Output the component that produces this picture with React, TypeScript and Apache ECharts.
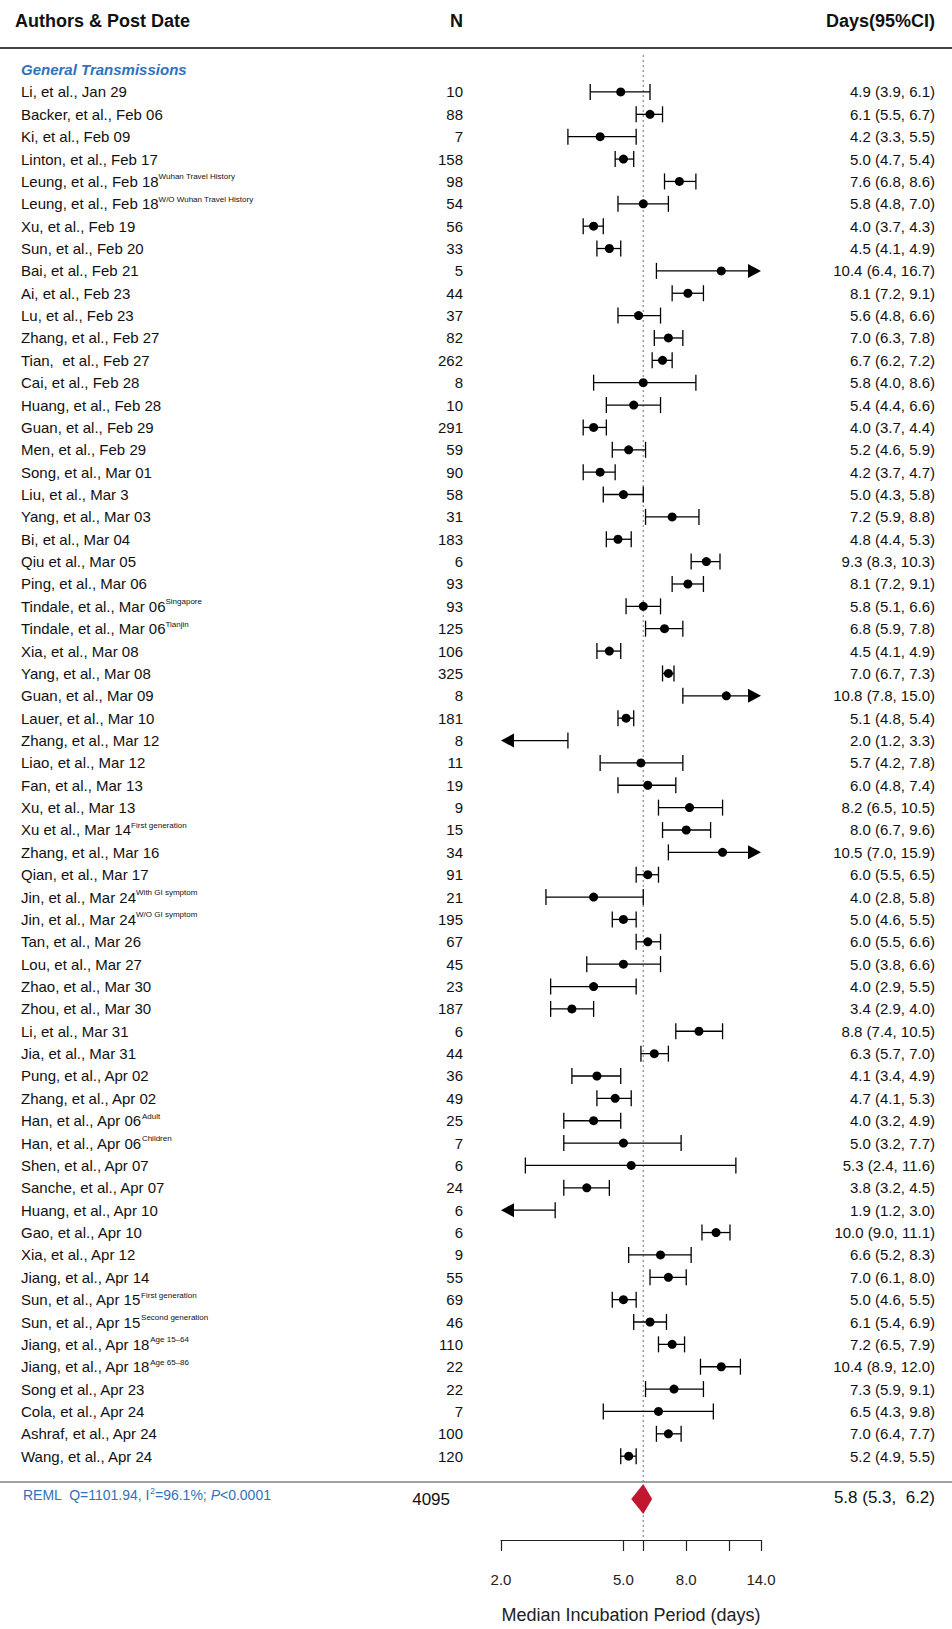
import { useEffect, useRef } from 'react'
import * as echarts from 'echarts'

// Study rows, top to bottom
const studies = [
  'Li, et al., Jan 29', 'Backer, et al., Feb 06', 'Ki, et al., Feb 09', 'Linton, et al., Feb 17',
  'Leung, et al., Feb 18', 'Leung, et al., Feb 18', 'Xu, et al., Feb 19', 'Sun, et al., Feb 20',
  'Bai, et al., Feb 21', 'Ai, et al., Feb 23', 'Lu, et al., Feb 23', 'Zhang, et al., Feb 27',
  'Tian,  et al., Feb 27', 'Cai, et al., Feb 28', 'Huang, et al., Feb 28', 'Guan, et al., Feb 29',
  'Men, et al., Feb 29', 'Song, et al., Mar 01', 'Liu, et al., Mar 3', 'Yang, et al., Mar 03',
  'Bi, et al., Mar 04', 'Qiu et al., Mar 05', 'Ping, et al., Mar 06', 'Tindale, et al., Mar 06',
  'Tindale, et al., Mar 06', 'Xia, et al., Mar 08', 'Yang, et al., Mar 08', 'Guan, et al., Mar 09',
  'Lauer, et al., Mar 10', 'Zhang, et al., Mar 12', 'Liao, et al., Mar 12', 'Fan, et al., Mar 13',
  'Xu, et al., Mar 13', 'Xu et al., Mar 14', 'Zhang, et al., Mar 16', 'Qian, et al., Mar 17',
  'Jin, et al., Mar 24', 'Jin, et al., Mar 24', 'Tan, et al., Mar 26', 'Lou, et al., Mar 27',
  'Zhao, et al., Mar 30', 'Zhou, et al., Mar 30', 'Li, et al., Mar 31', 'Jia, et al., Mar 31',
  'Pung, et al., Apr 02', 'Zhang, et al., Apr 02', 'Han, et al., Apr 06', 'Han, et al., Apr 06',
  'Shen, et al., Apr 07', 'Sanche, et al., Apr 07', 'Huang, et al., Apr 10', 'Gao, et al., Apr 10',
  'Xia, et al., Apr 12', 'Jiang, et al., Apr 14', 'Sun, et al., Apr 15', 'Sun, et al., Apr 15',
  'Jiang, et al., Apr 18', 'Jiang, et al., Apr 18', 'Song et al., Apr 23', 'Cola, et al., Apr 24',
  'Ashraf, et al., Apr 24', 'Wang, et al., Apr 24',
]
const notes: Record<number, string> = {
  4: 'Wuhan Travel History', 5: 'W/O Wuhan Travel History', 23: 'Singapore', 24: 'Tianjin',
  33: 'First generation', 36: 'With GI symptom', 37: 'W/O GI symptom', 46: 'Adult', 47: 'Children',
  54: 'First generation', 55: 'Second generation', 56: 'Age 15–64', 57: 'Age 65–86',
}
const sampleN = [10, 88, 7, 158, 98, 54, 56, 33, 5, 44, 37, 82, 262, 8, 10, 291, 59, 90, 58, 31, 183, 6, 93, 93, 125, 106, 325, 8, 181, 8, 11, 19, 9, 15, 34, 91, 21, 195, 67, 45, 23, 187, 6, 44, 36, 49, 25, 7, 6, 24, 6, 6, 9, 55, 69, 46, 110, 22, 22, 7, 100, 120]
const median = [4.9, 6.1, 4.2, 5.0, 7.6, 5.8, 4.0, 4.5, 10.4, 8.1, 5.6, 7.0, 6.7, 5.8, 5.4, 4.0, 5.2, 4.2, 5.0, 7.2, 4.8, 9.3, 8.1, 5.8, 6.8, 4.5, 7.0, 10.8, 5.1, 2.0, 5.7, 6.0, 8.2, 8.0, 10.5, 6.0, 4.0, 5.0, 6.0, 5.0, 4.0, 3.4, 8.8, 6.3, 4.1, 4.7, 4.0, 5.0, 5.3, 3.8, 1.9, 10.0, 6.6, 7.0, 5.0, 6.1, 7.2, 10.4, 7.3, 6.5, 7.0, 5.2]
const lower = [3.9, 5.5, 3.3, 4.7, 6.8, 4.8, 3.7, 4.1, 6.4, 7.2, 4.8, 6.3, 6.2, 4.0, 4.4, 3.7, 4.6, 3.7, 4.3, 5.9, 4.4, 8.3, 7.2, 5.1, 5.9, 4.1, 6.7, 7.8, 4.8, 1.2, 4.2, 4.8, 6.5, 6.7, 7.0, 5.5, 2.8, 4.6, 5.5, 3.8, 2.9, 2.9, 7.4, 5.7, 3.4, 4.1, 3.2, 3.2, 2.4, 3.2, 1.2, 9.0, 5.2, 6.1, 4.6, 5.4, 6.5, 8.9, 5.9, 4.3, 6.4, 4.9]
const upper = [6.1, 6.7, 5.5, 5.4, 8.6, 7.0, 4.3, 4.9, 16.7, 9.1, 6.6, 7.8, 7.2, 8.6, 6.6, 4.4, 5.9, 4.7, 5.8, 8.8, 5.3, 10.3, 9.1, 6.6, 7.8, 4.9, 7.3, 15.0, 5.4, 3.3, 7.8, 7.4, 10.5, 9.6, 15.9, 6.5, 5.8, 5.5, 6.6, 6.6, 5.5, 4.0, 10.5, 7.0, 4.9, 5.3, 4.9, 7.7, 11.6, 4.5, 3.0, 11.1, 8.3, 8.0, 5.5, 6.9, 7.9, 12.0, 9.1, 9.8, 7.7, 5.5]

const pooled = { est: 5.8, lo: 5.3, hi: 6.2, n: 4095 }
const tickValues = [2, 5, 5.8, 8, 11, 14]
const tickLabels = [2, 5, 8, 14]

const X_MIN = 2
const X_MAX = 14
const FONT = '"Liberation Sans", Arial, sans-serif'
const BLUE = '#2f72bd'
const TOP = 69.6 // pixel of row value 0
const ROW = 22.41
const AXIS_Y = 1543
const POOLED_ROW = (1502 - TOP) / ROW

export default function App() {
  const ref = useRef<HTMLDivElement>(null)

  useEffect(() => {
    document.body.style.margin = '0'
    const el = ref.current
    if (!el) return
    const chart = echarts.init(el, undefined, { renderer: 'svg' })
    const rows = studies.map((_, i) => [median[i], i + 1])
    const yMax = (AXIS_Y - TOP) / ROW

    chart.setOption({
      animation: false,
      textStyle: { fontFamily: FONT },
      grid: { left: 501, right: 952 - 761, top: TOP, bottom: 1629 - AXIS_Y },
      xAxis: {
        type: 'log',
        min: X_MIN,
        max: X_MAX,
        position: 'bottom',
        axisLine: { show: true, onZero: false, lineStyle: { color: '#222', width: 1.2 } },
        axisTick: { show: true, customValues: tickValues, length: 11, lineStyle: { color: '#222', width: 1.2 } },
        axisLabel: {
          customValues: tickLabels,
          formatter: (v: number) => v.toFixed(1),
          margin: 32,
          fontSize: 15,
          color: '#222',
          fontFamily: FONT,
        },
        splitLine: { show: false },
        name: 'Median Incubation Period (days)',
        nameLocation: 'middle',
        nameGap: 66,
        nameTextStyle: { fontSize: 18, color: '#222', fontFamily: FONT },
      },
      yAxis: { type: 'value', inverse: true, min: 0, max: yMax, show: false },
      graphic: [
        { type: 'line', shape: { x1: 0, y1: 48, x2: 952, y2: 48 }, style: { stroke: '#444', lineWidth: 2 } },
        { type: 'line', shape: { x1: 0, y1: 1482, x2: 952, y2: 1482 }, style: { stroke: '#444', lineWidth: 1.2 } },
        { type: 'text', x: 15, y: 21, style: { text: 'Authors & Post Date', font: `bold 18px ${FONT}`, fill: '#111', verticalAlign: 'middle' } },
        { type: 'text', x: 463, y: 21, style: { text: 'N', font: `bold 18px ${FONT}`, fill: '#111', align: 'right', verticalAlign: 'middle' } },
        { type: 'text', x: 935, y: 21, style: { text: 'Days(95%CI)', font: `bold 18px ${FONT}`, fill: '#111', align: 'right', verticalAlign: 'middle' } },
        { type: 'text', x: 21, y: 69, style: { text: 'General Transmissions', font: `italic bold 15px ${FONT}`, fill: BLUE, verticalAlign: 'middle' } },
      ],
      series: [
        {
          // reference line at pooled estimate
          type: 'custom',
          clip: false,
          silent: true,
          data: [[pooled.est]],
          renderItem: (_p: any, api: any) => {
            const a = api.coord([pooled.est, -0.65])
            const b = api.coord([pooled.est, yMax])
            return {
              type: 'line',
              shape: { x1: a[0], y1: a[1], x2: b[0], y2: b[1] },
              style: { stroke: '#888', lineWidth: 1.2, lineDash: [2, 3] },
            }
          },
        },
        {
          // text columns
          type: 'custom',
          clip: false,
          silent: true,
          data: rows,
          renderItem: (p: any, api: any) => {
            const i = p.dataIndex
            const y = api.coord([X_MIN, i + 1])[1]
            const note = notes[i]
            const ci = `${median[i].toFixed(1)} (${lower[i].toFixed(1)}, ${upper[i].toFixed(1)})`
            return {
              type: 'group',
              children: [
                {
                  type: 'text',
                  x: 21,
                  y,
                  style: {
                    text: note ? `${studies[i]}{s|${note}}` : studies[i],
                    font: `15px ${FONT}`,
                    fill: '#111',
                    verticalAlign: 'middle',
                    rich: { s: { fontSize: 8, fontFamily: FONT, fill: '#111', padding: [0, 0, 9, 0] } },
                  },
                },
                { type: 'text', x: 463, y, style: { text: String(sampleN[i]), font: `15px ${FONT}`, fill: '#111', align: 'right', verticalAlign: 'middle' } },
                { type: 'text', x: 935, y, style: { text: ci, font: `15px ${FONT}`, fill: '#111', align: 'right', verticalAlign: 'middle' } },
              ],
            }
          },
        },
        {
          // CI whiskers, arrows and point estimates
          type: 'custom',
          clip: false,
          data: rows,
          renderItem: (p: any, api: any) => {
            const i = p.dataIndex
            const lo = Math.max(lower[i], X_MIN)
            const hi = Math.min(upper[i], X_MAX)
            const [x1, y] = api.coord([lo, i + 1])
            const x2 = api.coord([hi, i + 1])[0]
            const children: any[] = []
            const s = { stroke: '#000', lineWidth: 1.3 }
            const leftArrow = lower[i] < X_MIN
            const rightArrow = upper[i] > X_MAX
            children.push({ type: 'line', shape: { x1: leftArrow ? x1 + 10 : x1, y1: y, x2: rightArrow ? x2 - 10 : x2, y2: y }, style: s })
            if (leftArrow) children.push({ type: 'polygon', shape: { points: [[x1, y], [x1 + 13, y - 7], [x1 + 13, y + 7]] }, style: { fill: '#000' } })
            else children.push({ type: 'line', shape: { x1, y1: y - 8, x2: x1, y2: y + 8 }, style: s })
            if (rightArrow) children.push({ type: 'polygon', shape: { points: [[x2, y], [x2 - 13, y - 7], [x2 - 13, y + 7]] }, style: { fill: '#000' } })
            else children.push({ type: 'line', shape: { x1: x2, y1: y - 8, x2, y2: y + 8 }, style: s })
            if (median[i] > X_MIN && median[i] < X_MAX) {
              const c = api.coord([median[i], i + 1])
              children.push({ type: 'circle', shape: { cx: c[0], cy: c[1], r: 4.5 }, style: { fill: '#000' } })
            }
            return { type: 'group', children }
          },
        },
        {
          // pooled estimate diamond and summary row
          type: 'custom',
          clip: false,
          silent: true,
          data: [[pooled.est, POOLED_ROW]],
          renderItem: (_p: any, api: any) => {
            const [cx, cy] = api.coord([pooled.est, POOLED_ROW])
            const l = api.coord([pooled.lo, POOLED_ROW])[0]
            const r = api.coord([pooled.hi, POOLED_ROW])[0]
            return {
              type: 'group',
              children: [
                { type: 'polygon', shape: { points: [[l, cy], [cx, cy - 15], [r, cy], [cx, cy + 15]] }, style: { fill: '#c0182e' } },
                {
                  type: 'text',
                  x: 23,
                  y: cy - 4,
                  style: {
                    text: 'REML  Q=1101.94, I{s|2}=96.1%; {i|P}<0.0001',
                    font: `14px ${FONT}`,
                    fill: BLUE,
                    verticalAlign: 'middle',
                    rich: {
                      s: { fontSize: 9, fontFamily: FONT, fill: BLUE, padding: [0, 0, 8, 0] },
                      i: { fontSize: 14, fontFamily: FONT, fill: BLUE, fontStyle: 'italic' },
                    },
                  },
                },
                { type: 'text', x: 450, y: cy, style: { text: String(pooled.n), font: `17px ${FONT}`, fill: '#111', align: 'right', verticalAlign: 'middle' } },
                {
                  type: 'text',
                  x: 935,
                  y: cy - 2,
                  style: {
                    text: `${pooled.est.toFixed(1)} (${pooled.lo.toFixed(1)},  ${pooled.hi.toFixed(1)})`,
                    font: `17px ${FONT}`,
                    fill: '#111',
                    align: 'right',
                    verticalAlign: 'middle',
                  },
                },
              ],
            }
          },
        },
      ],
    })
    return () => chart.dispose()
  }, [])

  return <div ref={ref} style={{ width: 952, height: 1629 }} />
}
